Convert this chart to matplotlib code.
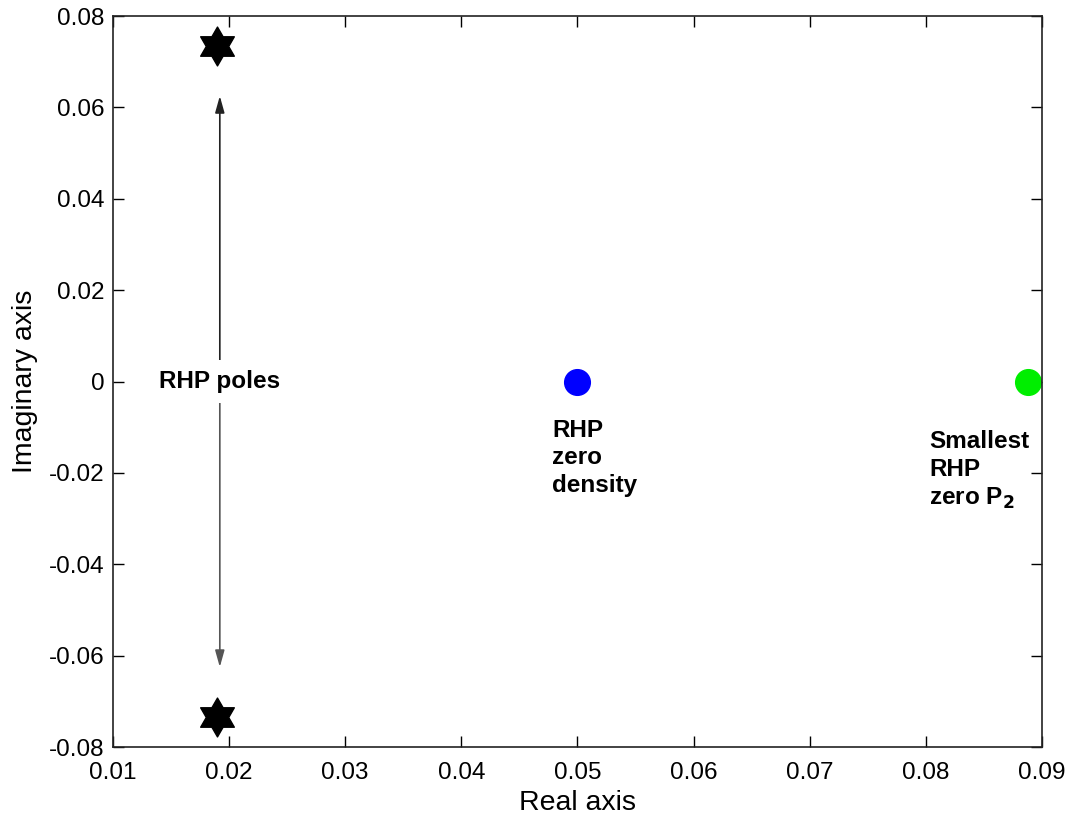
import matplotlib
matplotlib.use("Agg")
import matplotlib.pyplot as plt
from matplotlib.path import Path
import numpy as np

plt.rcParams['font.family'] = ['Liberation Sans', 'DejaVu Sans']
plt.rcParams['axes.unicode_minus'] = False

# Data
pole_re = [0.019, 0.019]
pole_im = [0.0735, -0.0735]
zero_density_re = [0.050]
zero_density_im = [0.0]
zero_p2_re = [0.0888]
zero_p2_im = [0.0]

xticks = [0.01, 0.02, 0.03, 0.04, 0.05, 0.06, 0.07, 0.08, 0.09]
xticklabels = ['0.01', '0.02', '0.03', '0.04', '0.05', '0.06', '0.07', '0.08', '0.09']
yticks = [-0.08, -0.06, -0.04, -0.02, 0, 0.02, 0.04, 0.06, 0.08]
yticklabels = ['-0.08', '-0.06', '-0.04', '-0.02', '0', '0.02', '0.04', '0.06', '0.08']

fig = plt.figure(figsize=(10.75, 8.22), dpi=100)
ax = fig.add_axes([0.1051, 0.0912, 0.8642, 0.8893])

hexagram = Path.unit_regular_star(6, 1 / np.sqrt(3))

ax.plot(pole_re, pole_im, linestyle='none', marker=hexagram, markersize=28,
        color='black')
ax.plot(zero_density_re, zero_density_im, linestyle='none', marker='o',
        markersize=18.5, color='#0000ff')
ax.plot(zero_p2_re, zero_p2_im, linestyle='none', marker='o',
        markersize=18.5, color='#00ee00', clip_on=False)

# double arrow between the poles
arrow_x = 0.0192
ax.annotate('', xy=(arrow_x, 0.0625), xytext=(arrow_x, 0.0),
            arrowprops=dict(arrowstyle='-|>,head_length=1.0,head_width=0.28',
                            color='#222222', lw=1.2, shrinkA=0, shrinkB=0))
ax.annotate('', xy=(arrow_x, -0.0625), xytext=(arrow_x, 0.0),
            arrowprops=dict(arrowstyle='-|>,head_length=1.0,head_width=0.28',
                            color='#555555', lw=1.2, shrinkA=0, shrinkB=0))

ax.text(arrow_x, 0.0, 'RHP poles', ha='center', va='center', fontsize=17.5,
        fontweight='bold', zorder=5,
        bbox=dict(facecolor='white', edgecolor='none', pad=7))
ax.text(0.0478, -0.0082, 'RHP\nzero\ndensity', ha='left', va='top',
        fontsize=17.5, fontweight='bold', linespacing=1.25)
ax.text(0.0803, -0.0107, 'Smallest\nRHP\nzero P$_\\mathbf{2}$', ha='left', va='top',
        fontsize=17.5, fontweight='bold', linespacing=1.25)

ax.set_xlim(0.01, 0.09)
ax.set_ylim(-0.08, 0.08)
ax.set_xticks(xticks)
ax.set_xticklabels(xticklabels)
ax.set_yticks(yticks)
ax.set_yticklabels(yticklabels)
ax.tick_params(direction='in', length=8, width=1, labelsize=17.5, top=True,
               right=True)
ax.tick_params(axis='x', pad=11)
ax.tick_params(axis='y', pad=6)
for s in ax.spines.values():
    s.set_linewidth(1.2)
    s.set_color('#222222')

ax.set_xlabel('Real axis', fontsize=20.5, labelpad=4)
ax.set_ylabel('Imaginary axis', fontsize=20.5, labelpad=8)

fig.savefig('out.png', dpi=100)
